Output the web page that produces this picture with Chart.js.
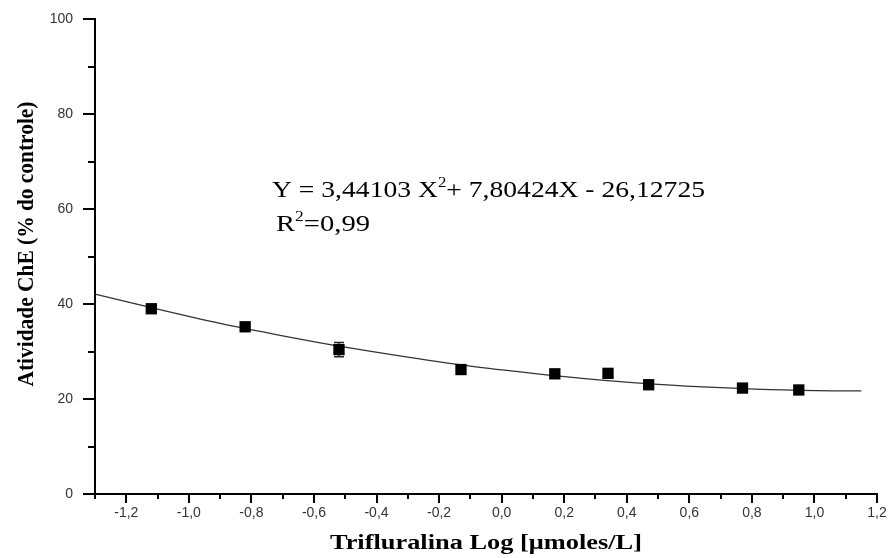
<!DOCTYPE html>
<html>
<head>
<meta charset="utf-8">
<script src="https://cdn.jsdelivr.net/npm/chart.js@4.4.1/dist/chart.umd.min.js"></script>
<style>
  html, body { margin: 0; padding: 0; background: #fff; }
  #wrap { width: 889px; height: 558px; }
</style>
</head>
<body>
<div id="wrap"><canvas id="chart"></canvas></div>
<script>
// measured points (log dose vs ChE activity, % of control)
const logDose = [-1.12, -0.82, -0.52, -0.13, 0.17, 0.34, 0.47, 0.77, 0.95];
const activity = [39.0, 35.2, 30.4, 26.2, 25.3, 25.4, 23.0, 22.3, 21.9];
const activityErr = [0.6, 0.5, 1.5, 0.9, 0.9, 0.4, 0.4, 0.4, 0.4];

// fitted curve
const fitX = [-1.3, -1.1, -0.9, -0.7, -0.5, -0.3, -0.1, 0.1, 0.3, 0.5, 0.7, 0.9, 1.1, 1.15];
const fitY = [42.1, 38.9, 35.9, 33.3, 30.9, 28.8, 26.9, 25.4, 24.1, 23.1, 22.4, 21.9, 21.7, 21.7];

// axis ticks
const xTicks = [-1.2, -1.0, -0.8, -0.6, -0.4, -0.2, 0.0, 0.2, 0.4, 0.6, 0.8, 1.0, 1.2];
const xMinor = [-1.1, -0.9, -0.7, -0.5, -0.3, -0.1, 0.1, 0.3, 0.5, 0.7, 0.9, 1.1];
const yTicks = [0, 20, 40, 60, 80, 100];
const yMinor = [10, 30, 50, 70, 90];

const xTitle = 'Trifluralina Log [\u03BCmoles/L]';
const yTitle = 'Atividade ChE (% do controle)';
const eqLine = ['Y = 3,44103 X', '2', '+ 7,80424X - 26,12725'];
const r2Line = ['R', '2', '=0,99'];

const serif = '"Liberation Serif", "Times New Roman", serif';
const sans = '"Liberation Sans", Arial, sans-serif';

// draw a run of text pieces (normal / superscript) stretched to a given width
function drawRun(ctx, pieces, x, baseline, width, sy) {
    let total = 0;
    pieces.forEach(p => { ctx.font = p.font; p.w = ctx.measureText(p.text).width; total += p.w; });
    ctx.save();
    ctx.translate(x, baseline);
    ctx.scale(width / total, sy || 1);
    let cx = 0;
    pieces.forEach(p => {
        ctx.font = p.font;
        ctx.fillText(p.text, cx, p.dy || 0);
        cx += p.w;
    });
    ctx.restore();
}

const axisTicks = {
    id: 'axisTicks',
    afterDraw(chart) {
        const { ctx, chartArea, scales: { x, y } } = chart;
        ctx.save();
        ctx.strokeStyle = '#000';
        ctx.lineWidth = 2;
        ctx.beginPath();
        yTicks.forEach(v => {
            const p = Math.round(y.getPixelForValue(v));
            ctx.moveTo(chartArea.left - 12, p); ctx.lineTo(chartArea.left, p);
        });
        yMinor.forEach(v => {
            const p = Math.round(y.getPixelForValue(v));
            ctx.moveTo(chartArea.left - 7, p); ctx.lineTo(chartArea.left, p);
        });
        xTicks.forEach(v => {
            const p = Math.round(x.getPixelForValue(v));
            ctx.moveTo(p, chartArea.bottom); ctx.lineTo(p, chartArea.bottom + 9);
        });
        xMinor.forEach(v => {
            const p = Math.round(x.getPixelForValue(v));
            ctx.moveTo(p, chartArea.bottom); ctx.lineTo(p, chartArea.bottom + 5);
        });
        ctx.moveTo(chartArea.left, chartArea.bottom); ctx.lineTo(chartArea.left, chartArea.bottom + 5);
        ctx.stroke();
        ctx.restore();
    }
};

const errorBars = {
    id: 'errorBars',
    beforeDatasetsDraw(chart) {
        const { ctx, scales: { x, y } } = chart;
        ctx.save();
        ctx.strokeStyle = '#222';
        ctx.lineWidth = 1.3;
        ctx.beginPath();
        logDose.forEach((d, i) => {
            const px = x.getPixelForValue(d);
            const top = y.getPixelForValue(activity[i] + activityErr[i]);
            const bot = y.getPixelForValue(activity[i] - activityErr[i]);
            ctx.moveTo(px, top); ctx.lineTo(px, bot);
            ctx.moveTo(px - 5, top); ctx.lineTo(px + 5, top);
            ctx.moveTo(px - 5, bot); ctx.lineTo(px + 5, bot);
        });
        ctx.stroke();
        ctx.restore();
    }
};

const labels = {
    id: 'labels',
    afterDraw(chart) {
        const ctx = chart.ctx;
        ctx.save();
        ctx.fillStyle = '#000';
        ctx.textBaseline = 'alphabetic';
        ctx.textAlign = 'left';

        // equation and R²
        const eqFont = '23px ' + serif;
        const supFont = '14px ' + serif;
        drawRun(ctx, [
            { text: eqLine[0], font: eqFont },
            { text: eqLine[1], font: supFont, dy: -10 },
            { text: eqLine[2], font: eqFont }
        ], 272, 197, 433);
        drawRun(ctx, [
            { text: r2Line[0], font: eqFont },
            { text: r2Line[1], font: supFont, dy: -10 },
            { text: r2Line[2], font: eqFont }
        ], 276, 231, 94);

        // x axis title
        drawRun(ctx, [{ text: xTitle, font: 'bold 20px ' + serif }], 330, 549, 312);

        // y axis title, rotated
        ctx.font = 'bold 20px ' + serif;
        const w = ctx.measureText(yTitle).width;
        ctx.translate(33, 244);
        ctx.rotate(-Math.PI / 2);
        ctx.scale(285 / w, 1.2);
        ctx.textAlign = 'center';
        ctx.fillText(yTitle, 0, 0);
        ctx.restore();
    }
};

new Chart(document.getElementById('chart'), {
    type: 'scatter',
    data: {
        datasets: [
            {
                label: 'Atividade',
                data: logDose.map((d, i) => ({ x: d, y: activity[i] })),
                pointStyle: 'rect',
                pointRadius: 8,
                pointHoverRadius: 8,
                backgroundColor: '#000',
                borderColor: '#000',
                borderWidth: 0,
                order: 1
            },
            {
                label: 'Ajuste',
                data: fitX.map((d, i) => ({ x: d, y: fitY[i] })),
                showLine: true,
                borderColor: '#333',
                borderWidth: 1.3,
                pointRadius: 0,
                cubicInterpolationMode: 'monotone',
                order: 2
            }
        ]
    },
    options: {
        responsive: true,
        maintainAspectRatio: false,
        animation: false,
        layout: { padding: { top: 19, right: 12, left: 0, bottom: 0 } },
        plugins: {
            legend: { display: false },
            tooltip: { enabled: false }
        },
        scales: {
            x: {
                type: 'linear',
                min: -1.3,
                max: 1.2,
                afterBuildTicks: s => { s.ticks = xTicks.map(v => ({ value: v })); },
                afterFit: s => { s.height = 64; s.paddingLeft = 0; s.paddingRight = 0; },
                grid: { display: false, drawTicks: false, tickLength: 0 },
                border: { display: true, color: '#000', width: 2 },
                ticks: {
                    padding: 11,
                    color: '#333',
                    font: { family: sans, size: 14 },
                    maxRotation: 0,
                    callback: v => v.toFixed(1).replace('.', ',')
                }
            },
            y: {
                min: 0,
                max: 100,
                afterBuildTicks: s => { s.ticks = yTicks.map(v => ({ value: v })); },
                afterFit: s => { s.width = 95; s.paddingTop = 0; s.paddingBottom = 0; },
                grid: { display: false, drawTicks: false, tickLength: 0 },
                border: { display: true, color: '#000', width: 2 },
                ticks: {
                    padding: 22,
                    color: '#333',
                    font: { family: sans, size: 14 },
                    callback: v => String(v)
                }
            }
        }
    },
    plugins: [axisTicks, errorBars, labels]
});
</script>
</body>
</html>
